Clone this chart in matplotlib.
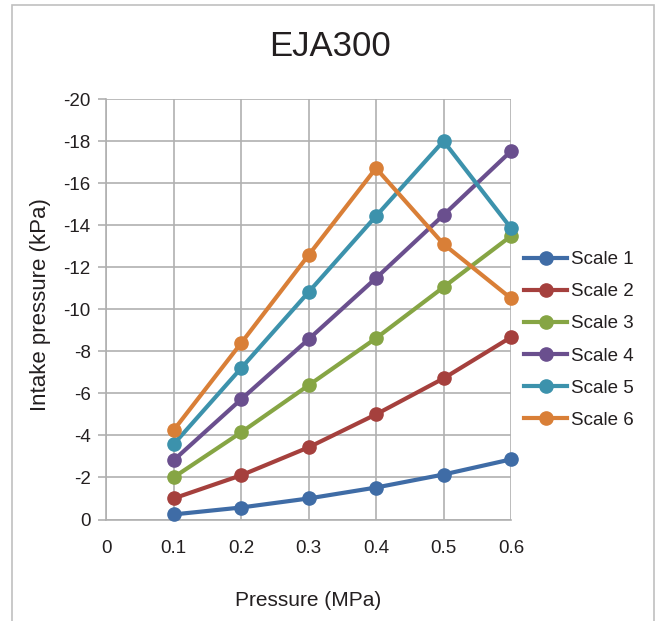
#!/usr/bin/env python3

import numpy as np
import matplotlib
matplotlib.use('Agg')
import matplotlib.pyplot as plt

pressure = [0.1, 0.2, 0.3, 0.4, 0.5, 0.6]
scale1 = [-0.24, -0.57, -1.00, -1.52, -2.14, -2.86]
scale2 = [-1.00, -2.10, -3.43, -5.00, -6.71, -8.67]
scale3 = [-2.00, -4.14, -6.38, -8.62, -11.05, -13.48]
scale4 = [-2.81, -5.71, -8.57, -11.48, -14.48, -17.52]
scale5 = [-3.57, -7.19, -10.81, -14.43, -18.00, -13.86]
scale6 = [-4.24, -8.38, -12.57, -16.71, -13.10, -10.52]
labels = ['Scale 1', 'Scale 2', 'Scale 3', 'Scale 4', 'Scale 5', 'Scale 6']
colors = ['#3F6CA6', '#A5403D', '#86A544', '#6A4F8E', '#3C92AC', '#D97F37']
x_ticks = [0, 0.1, 0.2, 0.3, 0.4, 0.5, 0.6]
y_ticks = np.arange(0, -21, -2)

plt.rcParams['font.family'] = ['Liberation Sans', 'DejaVu Sans']
text_col = '#231F20'
grid_col = '#B0B0B0'

fig = plt.figure(figsize=(6.6, 6.21), dpi=100)
# outer chart frame
fig.add_artist(plt.Rectangle((12 / 660, -0.1), 642 / 660, 1.1 - 5 / 621, fill=False,
                             edgecolor='#C0C0C0', lw=1.2, transform=fig.transFigure))

ax = fig.add_axes([106 / 660, 101.5 / 621, 405 / 660, 420.5 / 621])
for y, lab, c in zip([scale1, scale2, scale3, scale4, scale5, scale6], labels, colors):
    ax.plot(pressure, y, color=c, lw=3, marker='o', ms=9.5, label=lab, clip_on=False, zorder=3)

ax.set_xlim(0, 0.6)
ax.set_ylim(0, -20)
ax.set_xticks(x_ticks)
ax.set_xticklabels(['0', '0.1', '0.2', '0.3', '0.4', '0.5', '0.6'])
ax.set_yticks(y_ticks)
ax.set_yticklabels([str(v) for v in y_ticks])
ax.grid(True, color=grid_col, lw=1.2)
for s in ['top', 'right']:
    ax.spines[s].set_visible(False)
ax.spines['left'].set_color(grid_col)
ax.spines['bottom'].set_color(grid_col)
ax.spines['left'].set_linewidth(1.2)
ax.spines['bottom'].set_linewidth(1.2)
ax.tick_params(axis='y', length=6, width=1.2, color=grid_col, labelsize=13.5, labelcolor=text_col, pad=5)
ax.tick_params(axis='x', length=0, labelsize=13.5, labelcolor=text_col, pad=15)

ax.set_xlabel('Pressure (MPa)', fontsize=15, color=text_col, labelpad=24)
ax.set_ylabel('Intake pressure (kPa)', fontsize=16, color=text_col)
ax.yaxis.set_label_coords(-0.137, 0.51)
fig.text(330 / 660, 1 - 46 / 621, 'EJA300', ha='center', va='center', fontsize=25, color=text_col)

ax.legend(loc='upper left', bbox_to_anchor=(1.005, 0.665), frameon=False, fontsize=13.5,
          handlelength=2.3, handletextpad=0.2, labelspacing=0.8, borderaxespad=0.2,
          labelcolor=text_col)

plt.savefig('out.png', dpi=100)
plt.close()
